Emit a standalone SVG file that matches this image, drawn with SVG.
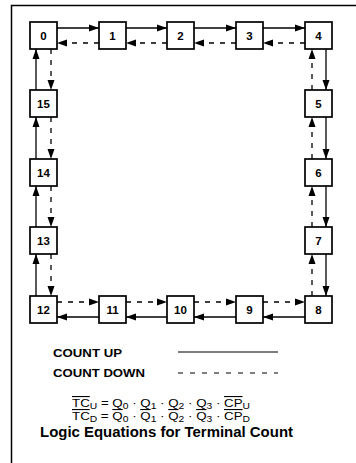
<svg xmlns="http://www.w3.org/2000/svg" width="356" height="463" viewBox="0 0 356 463">
<defs>
<marker id="ah" markerUnits="userSpaceOnUse" markerWidth="11" markerHeight="8" refX="10" refY="4" orient="auto">
<path d="M0,0.5 L10,4 L0,7.5 Z" fill="#000"/>
</marker>
<style>
.box rect{fill:#fff;stroke:#000;stroke-width:1.7}
.box text{font-family:"Liberation Sans",Arial,sans-serif;font-size:11.5px;font-weight:bold;text-anchor:middle;fill:#000}
.up{stroke:#000;stroke-width:1.3;fill:none;marker-end:url(#ah)}
.dn{stroke:#000;stroke-width:1.3;fill:none;stroke-dasharray:5 6;marker-end:url(#ah)}
.lbl{font-family:"Liberation Sans",Arial,sans-serif;font-weight:bold;font-size:10.5px;fill:#000}
.eq{font-family:"Liberation Sans",Arial,sans-serif;font-size:11px;fill:#000}
.ol{text-decoration:overline}
</style>
</defs>
<rect width="356" height="463" fill="#fff"/>
<path d="M11.5,463 V5.5 H356" fill="none" stroke="#000" stroke-width="1.5"/>
<g id="connectors">
<line class="up" x1="57" y1="28" x2="99" y2="28"/>
<line class="up" x1="126" y1="28" x2="167" y2="28"/>
<line class="up" x1="194" y1="28" x2="236" y2="28"/>
<line class="up" x1="263" y1="28" x2="305" y2="28"/>
<line class="dn" x1="99" y1="43" x2="57" y2="43"/>
<line class="dn" x1="167" y1="43" x2="126" y2="43"/>
<line class="dn" x1="236" y1="43" x2="194" y2="43"/>
<line class="dn" x1="305" y1="43" x2="263" y2="43"/>
<line class="up" x1="326" y1="49" x2="326" y2="90"/>
<line class="up" x1="326" y1="117" x2="326" y2="159"/>
<line class="up" x1="326" y1="186" x2="326" y2="227"/>
<line class="up" x1="326" y1="254" x2="326" y2="296"/>
<line class="dn" x1="312" y1="90" x2="312" y2="49"/>
<line class="dn" x1="312" y1="159" x2="312" y2="117"/>
<line class="dn" x1="312" y1="227" x2="312" y2="186"/>
<line class="dn" x1="312" y1="296" x2="312" y2="254"/>
<line class="up" x1="305" y1="317" x2="263" y2="317"/>
<line class="up" x1="236" y1="317" x2="194" y2="317"/>
<line class="up" x1="167" y1="317" x2="126" y2="317"/>
<line class="up" x1="99" y1="317" x2="57" y2="317"/>
<line class="dn" x1="57" y1="302" x2="99" y2="302"/>
<line class="dn" x1="126" y1="302" x2="167" y2="302"/>
<line class="dn" x1="194" y1="302" x2="236" y2="302"/>
<line class="dn" x1="263" y1="302" x2="305" y2="302"/>
<line class="up" x1="36" y1="296" x2="36" y2="254"/>
<line class="up" x1="36" y1="227" x2="36" y2="186"/>
<line class="up" x1="36" y1="159" x2="36" y2="117"/>
<line class="up" x1="36" y1="90" x2="36" y2="49"/>
<line class="dn" x1="51" y1="49" x2="51" y2="90"/>
<line class="dn" x1="51" y1="117" x2="51" y2="159"/>
<line class="dn" x1="51" y1="186" x2="51" y2="227"/>
<line class="dn" x1="51" y1="254" x2="51" y2="296"/>
</g>
<g id="n0" class="box"><rect x="30" y="22" width="27" height="27"/><text x="43.5" y="39.5">0</text></g>
<g id="n1" class="box"><rect x="99" y="22" width="27" height="27"/><text x="112.5" y="39.5">1</text></g>
<g id="n2" class="box"><rect x="167" y="22" width="27" height="27"/><text x="180.5" y="39.5">2</text></g>
<g id="n3" class="box"><rect x="236" y="22" width="27" height="27"/><text x="249.5" y="39.5">3</text></g>
<g id="n4" class="box"><rect x="305" y="22" width="27" height="27"/><text x="318.5" y="39.5">4</text></g>
<g id="n5" class="box"><rect x="305" y="90" width="27" height="27"/><text x="318.5" y="107.5">5</text></g>
<g id="n6" class="box"><rect x="305" y="159" width="27" height="27"/><text x="318.5" y="176.5">6</text></g>
<g id="n7" class="box"><rect x="305" y="227" width="27" height="27"/><text x="318.5" y="244.5">7</text></g>
<g id="n8" class="box"><rect x="305" y="296" width="27" height="27"/><text x="318.5" y="313.5">8</text></g>
<g id="n9" class="box"><rect x="236" y="296" width="27" height="27"/><text x="249.5" y="313.5">9</text></g>
<g id="n10" class="box"><rect x="167" y="296" width="27" height="27"/><text x="180.5" y="313.5">10</text></g>
<g id="n11" class="box"><rect x="99" y="296" width="27" height="27"/><text x="112.5" y="313.5">11</text></g>
<g id="n12" class="box"><rect x="30" y="296" width="27" height="27"/><text x="43.5" y="313.5">12</text></g>
<g id="n13" class="box"><rect x="30" y="227" width="27" height="27"/><text x="43.5" y="244.5">13</text></g>
<g id="n14" class="box"><rect x="30" y="159" width="27" height="27"/><text x="43.5" y="176.5">14</text></g>
<g id="n15" class="box"><rect x="30" y="90" width="27" height="27"/><text x="43.5" y="107.5">15</text></g>
<g id="legend">
<text class="lbl" x="53" y="356.5" textLength="69" lengthAdjust="spacingAndGlyphs">COUNT UP</text>
<line x1="178" y1="352" x2="278" y2="352" stroke="#000" stroke-width="1.2"/>
<text class="lbl" x="53" y="376.5" textLength="92" lengthAdjust="spacingAndGlyphs">COUNT DOWN</text>
<line x1="178" y1="373" x2="278" y2="373" stroke="#000" stroke-width="1.2" stroke-dasharray="5 7"/>
</g>
<g id="equations">
<text class="eq" x="72" y="407" textLength="178" lengthAdjust="spacingAndGlyphs"><tspan class="ol">TC</tspan><tspan font-size="8.5" dy="2">U</tspan><tspan dy="-2"> = Q</tspan><tspan font-size="8.5" dy="2">0</tspan><tspan dy="-2"> · Q</tspan><tspan font-size="8.5" dy="2">1</tspan><tspan dy="-2"> · Q</tspan><tspan font-size="8.5" dy="2">2</tspan><tspan dy="-2"> · Q</tspan><tspan font-size="8.5" dy="2">3</tspan><tspan dy="-2"> · </tspan><tspan class="ol">CP</tspan><tspan font-size="8.5" dy="2">U</tspan></text>
<text class="eq" x="72" y="420" textLength="178" lengthAdjust="spacingAndGlyphs"><tspan class="ol">TC</tspan><tspan font-size="8.5" dy="2">D</tspan><tspan dy="-2"> = </tspan><tspan class="ol">Q</tspan><tspan font-size="8.5" dy="2">0</tspan><tspan dy="-2"> · </tspan><tspan class="ol">Q</tspan><tspan font-size="8.5" dy="2">1</tspan><tspan dy="-2"> · </tspan><tspan class="ol">Q</tspan><tspan font-size="8.5" dy="2">2</tspan><tspan dy="-2"> · </tspan><tspan class="ol">Q</tspan><tspan font-size="8.5" dy="2">3</tspan><tspan dy="-2"> · </tspan><tspan class="ol">CP</tspan><tspan font-size="8.5" dy="2">D</tspan></text>
<text x="40" y="437" font-family="Liberation Sans,Arial,sans-serif" font-weight="bold" font-size="14" fill="#000" textLength="253" lengthAdjust="spacingAndGlyphs">Logic Equations for Terminal Count</text>
</g>
</svg>
